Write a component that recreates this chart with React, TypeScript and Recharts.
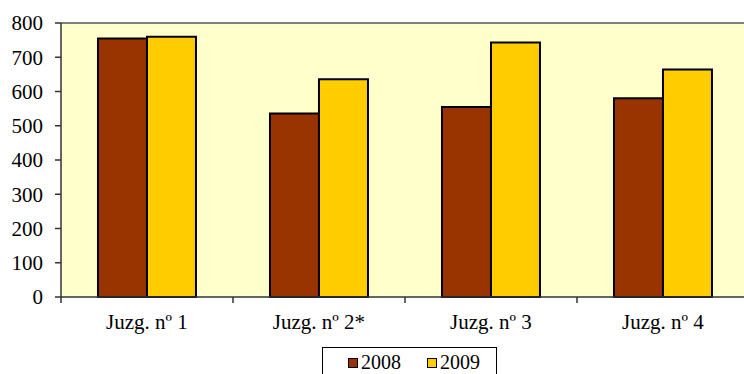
import React from "react";
import {
  BarChart,
  Bar,
  XAxis,
  YAxis,
  CartesianGrid,
  ReferenceLine,
  Legend,
} from "recharts";

const categories = ["Juzg. nº 1", "Juzg. nº 2*", "Juzg. nº 3", "Juzg. nº 4"];
const values2008 = [755, 536, 555, 580];
const values2009 = [760, 636, 743, 664];
const yTicks = [0, 100, 200, 300, 400, 500, 600, 700, 800];

const COLORS = { s2008: "#993300", s2009: "#FFCC00" };
const FONT = "Liberation Serif, DejaVu Serif, serif";

const data = categories.map((name, i) => ({
  name,
  "2008": values2008[i],
  "2009": values2009[i],
}));

const CHART_W = 749;
const Y_AXIS_W = 61;
const BAND = (CHART_W - Y_AXIS_W) / categories.length;

const renderXTick = ({ x, y, payload }: any) => {
  // tick marks sit between categories, not under the labels
  const axisY = y - 17.5;
  return (
    <g>
      <line
        x1={x - BAND / 2}
        x2={x - BAND / 2}
        y1={axisY}
        y2={axisY + 6}
        stroke="#333"
        strokeWidth={1.5}
      />
      <text
        x={x}
        y={y}
        dy="0.71em"
        textAnchor="middle"
        fill="#000"
        style={{ fontFamily: FONT, fontSize: 21 }}
      >
        {payload.value}
      </text>
    </g>
  );
};

const renderYTick = ({ x, y, payload }: any) => (
  <text
    x={x}
    y={y}
    dy="0.355em"
    textAnchor="end"
    fill="#000"
    style={{ fontFamily: FONT, fontSize: 21 }}
  >
    {payload.value}
  </text>
);

const renderLegend = () => (
  <div
    style={{
      width: 175,
      height: 31,
      boxSizing: "border-box",
      border: "1px solid #000",
      background: "#fff",
      display: "flex",
      alignItems: "center",
      paddingLeft: 25,
      fontFamily: FONT,
      fontSize: 20,
      color: "#000",
    }}
  >
    {[
      { label: "2008", color: COLORS.s2008 },
      { label: "2009", color: COLORS.s2009 },
    ].map((item, i) => (
      <span
        key={item.label}
        style={{
          display: "flex",
          alignItems: "center",
          marginLeft: i === 0 ? 0 : 26,
        }}
      >
        <span
          style={{
            width: 10,
            height: 10,
            boxSizing: "border-box",
            border: "1.5px solid #000",
            background: item.color,
            marginRight: 3,
          }}
        />
        {item.label}
      </span>
    ))}
  </div>
);

export default function App() {
  return (
    <div
      style={{
        position: "absolute",
        left: 0,
        top: 0,
        width: 744,
        height: 374,
        overflow: "hidden",
        background: "#fff",
        fontFamily: FONT,
      }}
    >
      <BarChart
        width={CHART_W}
        height={378}
        data={data}
        margin={{ top: 23, right: 0, left: 0, bottom: 0 }}
        barCategoryGap="21.5%"
        barGap={0}
      >
        <CartesianGrid
          fill="#FFFFCC"
          stroke="none"
          horizontal={false}
          vertical={false}
        />
        <ReferenceLine y={800} stroke="#808080" strokeWidth={2} />
        <XAxis
          dataKey="name"
          height={50}
          stroke="#333"
          strokeWidth={1.5}
          tickLine={false}
          tickSize={5}
          tickMargin={12.5}
          tick={renderXTick}
          interval={0}
        />
        <YAxis
          width={Y_AXIS_W}
          domain={[0, 800]}
          ticks={yTicks}
          interval={0}
          stroke="#333"
          strokeWidth={1.5}
          tickSize={6}
          tickMargin={12}
          tick={renderYTick}
        />
        <Legend
          verticalAlign="bottom"
          content={renderLegend}
          wrapperStyle={{ left: 322, width: 175, bottom: 0 }}
        />
        <Bar
          dataKey="2008"
          fill={COLORS.s2008}
          stroke="#000"
          strokeWidth={2}
          isAnimationActive={false}
        />
        <Bar
          dataKey="2009"
          fill={COLORS.s2009}
          stroke="#000"
          strokeWidth={2}
          isAnimationActive={false}
        />
      </BarChart>
    </div>
  );
}
